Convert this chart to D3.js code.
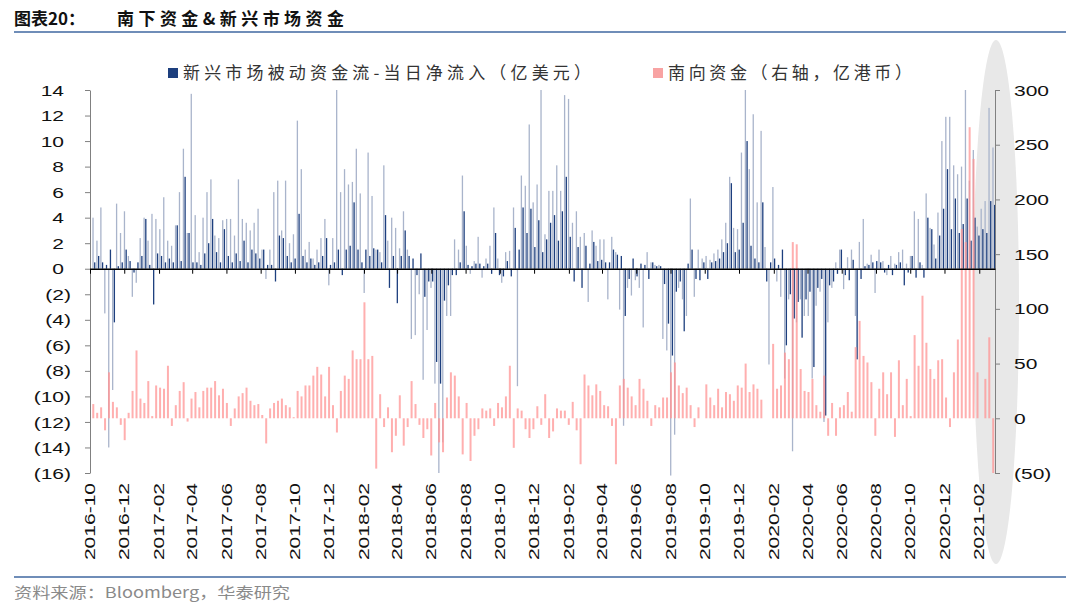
<!DOCTYPE html>
<html><head><meta charset="utf-8">
<script src="https://cdn.jsdelivr.net/npm/d3@7"></script>
<style>body{margin:0;background:#fff;} svg{display:block}</style>
</head><body><svg id="c" width="1080" height="612"></svg>
<script>
// ---------------- DATA (weekly readings, first week ending 2016-10-07) ----------------
const firstWeek = "2016-10-07";
// EM passive fund flow, daily net inflow (USD 100m): weekly extreme bar
const emFlowHigh = [4.0,2.2,4.8,-3.5,-14,-9.5,5.1,2.8,4.5,1.0,-2.2,-1.1,2.4,4.0,2.2,4.3,3.9,3.1,5.6,2.2,
1.8,3.4,6.0,9.4,2.8,13.7,4.2,1.3,4.0,6.0,7.0,2.6,2.4,3.8,3.9,3.9,2.6,7.0,3.9,3.6,
3.0,3.6,4.7,1.5,-0.8,1.5,6.0,6.9,3.0,6.9,2.0,2.7,11.6,7.8,1.5,2.1,0.8,1.5,2.4,3.9,
-1.3,2.4,14.0,6.0,7.8,6.6,6.8,9.4,5.9,-1.9,9.1,5.7,1.5,1.3,8.1,2.2,4.0,3.2,1.6,4.5,
1.5,-5.5,-5.2,-2.0,-8.7,-4.8,-1.5,-9.0,-16.0,-13.6,-3.7,-3.7,2.3,1.5,7.3,1.8,-0.4,0.6,2.5,-0.7,
0.8,1.8,4.8,0.8,-1.1,1.3,1.4,4.8,-9.2,7.3,6.5,11.3,5.2,6.6,14.0,2.7,6.1,6.1,8.1,6.1,
13.6,13.3,3.6,4.5,2.5,2.8,-2.6,3.0,1.8,2.3,2.3,-2.4,2.5,1.3,-3.2,-12.3,-1.5,-2.1,-0.9,-1.5,
-4.6,1.3,0.5,0.3,0.3,-5.5,-6.4,-16.2,-13.0,-1.5,-2.4,-3.7,5.5,-2.2,1.5,0.8,1.0,0.7,1.2,1.5,
2.3,3.6,7.2,3.2,3.1,9.1,14.0,7.8,12.1,5.2,10.8,1.7,-7.5,6.4,-1.0,-2.2,-8.6,-2.4,-14.3,-4.2,
-2.4,-3.7,-3.7,-8.6,-2.9,-1.8,-12.0,-4.2,-1.5,0.5,1.5,-1.6,0.9,1.5,-3.7,2.1,3.9,0.4,1.1,-1.9,
1.5,0.6,-0.5,1.0,0.4,1.3,1.5,0.4,1.0,4.5,3.9,0.3,5.9,3.2,1.9,4.4,10.0,11.9,11.9,8.1,
7.4,8.0,14.0,6.9,9.3,3.3,4.7,5.3,12.6,9.5];
// EM passive fund flow: weekly typical (dark) bar
const emFlowCore = [0.5,1.0,0.5,0.3,1.5,-4.2,0.2,0.5,1.5,0.6,-0.3,0.5,1.0,3.9,0.3,-2.8,1.2,1.0,0.5,0.8,
0.5,3.4,0.6,7.2,2.8,0.5,0.5,0.3,1.2,2.0,3.9,1.3,0.5,3.1,1.0,0.5,1.2,0.6,2.2,0.5,
1.5,1.2,0.8,1.5,0.3,0.3,-1.0,2.6,2.4,1.0,0.5,0.8,4.3,1.0,0.5,0.8,0.3,0.5,1.0,2.4,
0.3,0.5,1.5,-0.5,1.5,1.8,5.2,1.5,0.5,1.5,1.0,1.6,1.5,0.5,4.2,-1.5,1.0,-2.7,1.0,3.0,
1.0,0.8,-0.5,1.2,-2.2,-1.0,-1.0,-7.3,-9.0,-2.5,-1.3,-0.5,-0.5,0.5,4.5,0.3,0.2,0.4,0.4,0.2,
0.4,-0.4,2.8,-0.5,-0.6,0.6,-0.6,3.2,1.5,4.8,2.8,4.7,1.7,3.8,1.3,2.3,3.6,4.2,2.2,4.5,
7.2,2.5,-1.0,1.7,-1.5,1.8,0.4,2.1,0.6,0.7,0.5,0.5,1.5,1.1,1.0,-3.7,-0.8,0.8,-0.6,0.4,
0.3,-0.8,0.5,0.2,0.2,-1.2,-4.3,-6.8,-1.8,-1.0,-4.9,0.4,1.5,-0.8,-0.9,0.5,-0.8,0.5,0.6,0.8,
1.3,2.0,6.7,1.3,1.5,3.6,10.0,1.8,0.8,0.5,5.2,-1.0,0.5,0.8,0.3,1.5,-6.0,-2.0,-3.9,-2.6,
-5.4,-2.4,-1.8,-7.7,-1.5,-0.8,-11.5,-1.3,-1.0,-0.4,1.5,-0.5,-0.9,0.7,-7.1,-0.8,0.2,0.3,0.5,0.6,
0.5,-0.3,0.3,-0.5,0.3,0.5,-1.3,-0.3,1.0,-0.7,0.5,-0.7,4.0,3.1,0.8,2.6,4.7,7.8,3.1,5.5,
2.8,3.5,5.5,2.2,4.0,2.6,3.1,2.8,5.3,5.0];
// Southbound flow (right axis, HKD 100m)
const southbound = [13,5,10,-11,42,15,10,-6,-20,5,25,62,18,14,34,2,30,28,27,48,
-7,12,25,33,-3,18,24,10,25,28,28,34,21,27,14,-7,9,20,23,28,
16,12,13,3,-23,9,14,16,18,12,10,1,25,20,30,30,39,47,40,20,
47,12,-13,25,39,36,62,54,54,106,54,57,-46,22,-8,10,-31,-16,21,-25,
-8,34,13,-6,-18,-10,-34,14,-22,-31,19,42,39,20,-33,14,-39,-16,-10,9,
7,9,-7,14,10,20,48,-27,9,7,-10,-18,-10,11,-6,22,-18,-12,9,7,
7,-6,15,-11,-42,40,30,21,31,25,12,11,-7,-42,30,36,28,20,12,36,
27,16,-7,12,10,19,19,42,51,30,23,28,12,-8,10,0,31,19,12,27,
10,24,22,16,30,28,50,24,31,27,17,0,0,68,27,30,60,54,161,159,
45,25,24,36,12,6,39,-16,14,-16,10,12,24,6,65,89,57,51,33,-16,
27,42,22,42,-17,53,12,36,2,76,48,112,69,45,36,53,54,19,-8,42,
72,173,161,266,237,42,0,36,74,-50];
const leftTicks = [14,12,10,8,6,4,2,0,-2,-4,-6,-8,-10,-12,-14,-16];
const rightTicks = [300,250,200,150,100,50,0,-50];
const monthTicks = ["2016-10","2016-12","2017-02","2017-04","2017-06","2017-08","2017-10","2017-12",
"2018-02","2018-04","2018-06","2018-08","2018-10","2018-12","2019-02","2019-04","2019-06","2019-08",
"2019-10","2019-12","2020-02","2020-04","2020-06","2020-08","2020-10","2020-12","2021-02"];
const legendNames = ["新兴市场被动资金流-当日净流入（亿美元）","南向资金（右轴，亿港币）"];

// ---------------- DRAWING ----------------
const svg = d3.select("#c");
const parse = d3.timeParse("%Y-%m-%d");
const weeks = emFlowHigh.map((_, i) => d3.timeDay.offset(parse(firstWeek), 7 * i));
const x = d3.scaleTime().domain([new Date(2016, 9, 1), new Date(2021, 2, 1)]).range([90, 995]);
const yL = d3.scaleLinear().domain([-16, 14]).range([473, 90]);
const yR = d3.scaleLinear().domain([-50, 300]).range([473, 90]);
const SX = 1.45;
const NUMFONT = "'Liberation Sans', Arial, sans-serif";
const CJK = "'Noto Sans CJK SC', sans-serif";
const BLUE = "#1d3f7e", BLUE_L = "#a9b4cb", PINK = "#ff9494";

// highlight ellipse
svg.append("ellipse").attr("cx", 996).attr("cy", 302).attr("rx", 23).attr("ry", 262).attr("fill", "#e8e8e8");

// title
svg.append("text").attr("x", 14).attr("y", 25).attr("font-family", CJK).attr("font-weight", 700)
  .attr("font-size", 17).attr("fill", "#111").text("图表20：");
svg.append("text").attr("x", 117).attr("y", 25).attr("font-family", CJK).attr("font-weight", 700)
  .attr("font-size", 17).attr("fill", "#111").attr("textLength", 227).text("南下资金&新兴市场资金");
svg.append("line").attr("x1", 14).attr("x2", 1066).attr("y1", 32).attr("y2", 32)
  .attr("stroke", "#6f8db8").attr("stroke-width", 2);

// bars
const y0L = yL(0), y0R = yR(0);
svg.append("g").selectAll("rect").data(emFlowHigh).join("rect")
  .attr("x", (d, i) => x(weeks[i]) - 1.0).attr("width", 1.3)
  .attr("y", d => Math.min(yL(d), y0L)).attr("height", d => Math.abs(yL(d) - y0L))
  .attr("fill", BLUE_L);
svg.append("g").selectAll("rect").data(emFlowCore).join("rect")
  .attr("x", (d, i) => x(weeks[i]) + 0.7).attr("width", 1.3)
  .attr("y", d => Math.min(yL(d), y0L)).attr("height", d => Math.abs(yL(d) - y0L))
  .attr("fill", BLUE);
svg.append("g").selectAll("rect").data(southbound).join("rect")
  .attr("x", (d, i) => x(weeks[i]) - 1.1).attr("width", 2.0)
  .attr("y", d => Math.min(yR(d), y0R)).attr("height", d => Math.abs(yR(d) - y0R))
  .attr("fill", PINK).attr("opacity", 0.75);

// axes
const fmt = v => v < 0 ? "(" + Math.abs(v) + ")" : String(v);
const gL = svg.append("g").attr("transform", "translate(90,0)")
  .call(d3.axisLeft(yL).tickValues(leftTicks).tickFormat(fmt).tickSize(5).tickSizeOuter(0))
  .attr("font-family", NUMFONT).attr("font-size", 14.5);
gL.select(".domain").attr("stroke", "#808080");
gL.selectAll(".tick line").attr("stroke", "#808080");
gL.selectAll(".tick text").attr("fill", "#111").attr("dy", "0.35em")
  .attr("x", d => d < 0 ? -19 / SX : -26 / SX).attr("transform", `scale(${SX},1)`);

const gR = svg.append("g").attr("transform", "translate(995,0)")
  .call(d3.axisRight(yR).tickValues(rightTicks).tickFormat(fmt).tickSize(5).tickSizeOuter(0))
  .attr("font-family", NUMFONT).attr("font-size", 14.5);
gR.select(".domain").attr("stroke", "#808080");
gR.selectAll(".tick line").attr("stroke", "#808080");
gR.selectAll(".tick text").attr("fill", "#111").attr("dy", "0.35em")
  .attr("x", 19 / SX).attr("transform", `scale(${SX},1)`);

const tickDates = monthTicks.map(s => parse(s + "-01"));
const gB = svg.append("g").attr("transform", `translate(0,${y0L})`)
  .call(d3.axisBottom(x).tickValues(tickDates).tickFormat("").tickSize(5).tickSizeOuter(0));
gB.select(".domain").attr("stroke", "#000").attr("stroke-width", 1.3);
gB.selectAll(".tick line").attr("stroke", "#000");

svg.append("g").attr("font-family", NUMFONT).attr("font-size", 14.5).attr("fill", "#111")
  .selectAll("text").data(monthTicks).join("text")
  .attr("transform", d => `translate(${x(parse(d + "-01"))},483) rotate(-90) scale(${SX},1)`)
  .attr("text-anchor", "end").attr("dy", "0.35em").text(d => d);

// legend
svg.append("rect").attr("x", 168).attr("y", 68).attr("width", 10).attr("height", 10).attr("fill", BLUE);
svg.append("text").attr("x", 183).attr("y", 79).attr("font-family", CJK).attr("font-size", 17)
  .attr("fill", "#333").attr("textLength", 408).text(legendNames[0]);
svg.append("rect").attr("x", 653).attr("y", 68).attr("width", 10).attr("height", 10).attr("fill", "#f8a3a3");
svg.append("text").attr("x", 668).attr("y", 79).attr("font-family", CJK).attr("font-size", 17)
  .attr("fill", "#333").attr("textLength", 244).text(legendNames[1]);

// footer
svg.append("line").attr("x1", 14).attr("x2", 1066).attr("y1", 577).attr("y2", 577)
  .attr("stroke", "#6f8db8").attr("stroke-width", 2);
svg.append("text").attr("x", 14).attr("y", 598).attr("font-family", CJK).attr("font-size", 15)
  .attr("fill", "#8a8a8a").attr("textLength", 276).attr("lengthAdjust", "spacingAndGlyphs")
  .text("资料来源：Bloomberg，华泰研究");
</script></body></html>
